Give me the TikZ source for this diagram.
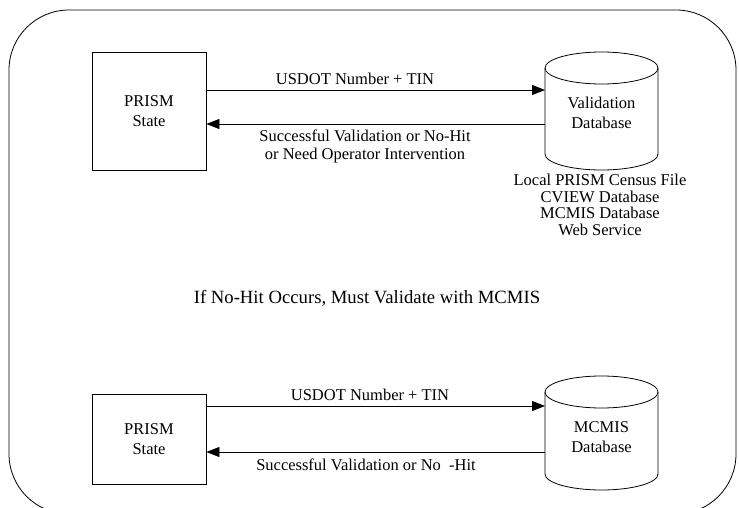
\documentclass[tikz,border=0pt]{standalone}
\usepackage{fontspec}
\setmainfont{Liberation Serif}
\usetikzlibrary{arrows.meta}
\begin{document}
\begin{tikzpicture}[x=1pt,y=-1pt,
  lbl/.style={font=\fontsize{16.5}{18}\selectfont, inner sep=0pt, align=center},
  boxnode/.style={draw, line width=0.8pt, minimum width=114pt, align=center, inner sep=0pt, font=\fontsize{16.5}{20}\selectfont},
  body/.style={inner sep=0pt, minimum width=113pt, align=center, font=\fontsize{16.5}{20}\selectfont},
  conn/.style={line width=0.8pt, -{Triangle[length=13pt,width=10pt]}},
  edge/.style={line width=0.8pt}
]
\useasboundingbox (0,0) rectangle (739,508);
\begin{scope}
\clip (0,0) rectangle (739,508);
\draw[edge, rounded corners=60pt] (9,10) rectangle (736,514);
\end{scope}

% top section
\node[boxnode, minimum height=118pt] (s1) at (149,111) {PRISM\\State};
\draw[edge] (545,68) -- (545,154) arc[start angle=180,end angle=0,x radius=56.5,y radius=16] -- (658,68);
\draw[edge] (601.5,68) ellipse[x radius=56.5,y radius=16];
\node[body, minimum height=77pt] (v1) at (601.5,113) {Validation\\Database};
\coordinate (t1) at (545,90);
\coordinate (b1) at (545,124);
\draw[conn] (s1.east |- t1) -- (t1);
\node[lbl, anchor=south] (l1) at (355,85) {USDOT Number + TIN};
\draw[conn] (b1) -- (s1.east |- b1);
\node[lbl, anchor=north] (l2) at (365,130) {Successful Validation or No-Hit\\or Need Operator Intervention};
\node[lbl, anchor=north, font=\fontsize{16.5}{16.5}\selectfont] (src) at (600,174) {Local PRISM Census File\\CVIEW Database\\MCMIS Database\\Web Service};

\node[lbl, font=\fontsize{18.7}{22}\selectfont] (head) at (367,298) {If No-Hit Occurs, Must Validate with MCMIS};

% bottom section
\node[boxnode, minimum height=90pt] (s2) at (149,439) {PRISM\\State};
\draw[edge] (545,392) -- (545,474) arc[start angle=180,end angle=0,x radius=56.5,y radius=16] -- (658,392);
\draw[edge] (601.5,392) ellipse[x radius=56.5,y radius=16];
\node[body, minimum height=77pt] (v2) at (601.5,437) {MCMIS\\Database};
\coordinate (t2) at (545,406);
\coordinate (b2) at (545,452);
\draw[conn] (s2.east |- t2) -- (t2);
\node[lbl, anchor=south] (l3) at (370,401) {USDOT Number + TIN};
\draw[conn] (b2) -- (s2.east |- b2);
\node[lbl, anchor=north] (l4) at (366,459) {Successful Validation or No\ \ -Hit};
\end{tikzpicture}
\end{document}
